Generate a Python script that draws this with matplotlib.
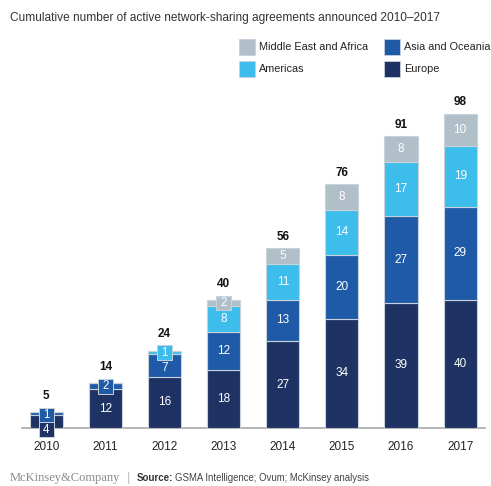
import matplotlib
matplotlib.use("Agg")
import matplotlib.pyplot as plt
from matplotlib.patches import Rectangle
import numpy as np

years = ["2010", "2011", "2012", "2013", "2014", "2015", "2016", "2017"]
europe = [4, 12, 16, 18, 27, 34, 39, 40]
asia = [1, 2, 7, 12, 13, 20, 27, 29]
americas = [0, 0, 1, 8, 11, 14, 17, 19]
mea = [0, 0, 0, 2, 5, 8, 8, 10]
totals = [5, 14, 24, 40, 56, 76, 91, 98]

series = [("Europe", europe, "#1e3263"),
          ("Asia and Oceania", asia, "#1f5aa8"),
          ("Americas", americas, "#3dbdec"),
          ("Middle East and Africa", mea, "#b1bfc9")]

plt.rcParams['font.family'] = ['Liberation Sans', 'DejaVu Sans']
W, H = 491, 486
fig = plt.figure(figsize=(W / 100, H / 100), dpi=100)

base_px = 428
top_px = 75
ymax = 110
ax = fig.add_axes([22 / W, (H - base_px) / H, (485 - 22) / W, (base_px - top_px) / H])
x = np.arange(len(years))
xlim = (-0.41, 7.42)
ax.set_xlim(*xlim)
ax.set_ylim(0, ymax)

# pixel -> data unit conversions for the small label boxes
px_x = (485 - 22) / (xlim[1] - xlim[0])
px_y = (base_px - top_px) / ymax
box_w = 15 / px_x
box_h = 14.5 / px_y
half_txt = 7 / px_y
edge = "#c8d2da"

bw = 0.56
n = len(years)
data = [np.array(v, dtype=float) for _, v, _ in series]
data = np.vstack(data)
bottoms = np.vstack([np.zeros(n)] + list(np.cumsum(data, axis=0)[:-1]))

# label layout
label_y = np.zeros((len(series), n))
is_box = np.zeros((len(series), n), dtype=bool)
for i in range(n):
    prev = None
    for k in range(len(series)):
        v = data[k][i]
        yc = bottoms[k][i] + v / 2
        if 0 < v < 5:
            is_box[k, i] = True
            if k == 0:
                yc = -0.5
            elif prev is not None:
                yc = prev + box_h
            prev = yc
        else:
            prev = None
        label_y[k, i] = yc
    # keep normal labels clear of a box sitting right above them
    for k in range(len(series) - 1):
        if data[k][i] >= 5 and is_box[k + 1, i]:
            label_y[k, i] = min(label_y[k, i], label_y[k + 1, i] - box_h / 2 - half_txt - 0.3)

for k, (name, vals, col) in enumerate(series):
    ax.bar(x, data[k], bw, bottom=bottoms[k], color=col, edgecolor=edge, linewidth=0.8, zorder=2)
    for i, v in enumerate(data[k]):
        if v <= 0:
            continue
        yc = label_y[k, i]
        if is_box[k, i]:
            ax.add_patch(Rectangle((x[i] - box_w / 2, yc - box_h / 2), box_w, box_h,
                                   fc=col, ec=edge, lw=0.7, zorder=4, clip_on=False))
            ax.text(x[i], yc, f"{int(v)}", ha="center", va="center", color="white", fontsize=8.3,
                    zorder=5, clip_on=False)
        else:
            ax.text(x[i], yc, f"{int(v)}", ha="center", va="center", color="white", fontsize=8.5, zorder=3)

for i, t in enumerate(totals):
    boxed = is_box[:, i]
    if boxed.any():
        top = max(label_y[boxed, i]) + box_h / 2
        ty = max(t, top) + 1.8
    else:
        ty = t + 1.6
    ax.text(x[i], ty, str(t), ha="center", va="bottom", fontsize=8.5, fontweight="bold", color="#111111")

for s in ["top", "right", "left"]:
    ax.spines[s].set_visible(False)
ax.spines["bottom"].set_color("#a9a9a9")
ax.spines["bottom"].set_linewidth(1.2)
ax.spines["bottom"].set_zorder(1)
ax.set_yticks([])
ax.set_xticks(x)
ax.set_xticklabels(years, fontsize=8.5, color="#222222")
ax.tick_params(axis="x", length=0, pad=9)

# title
fig.text(10 / W, 1 - 18 / H, "Cumulative number of active network-sharing agreements announced 2010\u20132017",
         fontsize=8.6, color="#333333", va="center", ha="left")

# legend
leg = [("Middle East and Africa", "#b1bfc9", 239, 47), ("Asia and Oceania", "#1f5aa8", 384, 47),
       ("Americas", "#3dbdec", 239, 69), ("Europe", "#1e3263", 384, 69)]
for lab, col, lx, ly in leg:
    fig.add_artist(Rectangle((lx / W, 1 - (ly + 8) / H), 16 / W, 16 / H, transform=fig.transFigure,
                             fc=col, ec=edge, lw=0.6))
    fig.text((lx + 20) / W, 1 - ly / H, lab, fontsize=7.8, color="#222222", va="center", ha="left")

# footer
fy = 1 - 478 / H
fig.text(10 / W, fy, "McKinsey&Company", family=["Liberation Serif", "DejaVu Serif"],
         fontsize=9.0, color="#8a8a8a", va="center", ha="left")
fig.text(127 / W, fy, "|", fontsize=9, color="#bbbbbb", va="center", ha="left")
fig.text(137 / W, fy, "Source:", fontsize=7, fontweight="bold", color="#333333", va="center", ha="left")
fig.text(175 / W, fy, "GSMA Intelligence; Ovum; McKinsey analysis", fontsize=6.9, color="#444444",
         va="center", ha="left")

fig.savefig("out.png", dpi=100)
